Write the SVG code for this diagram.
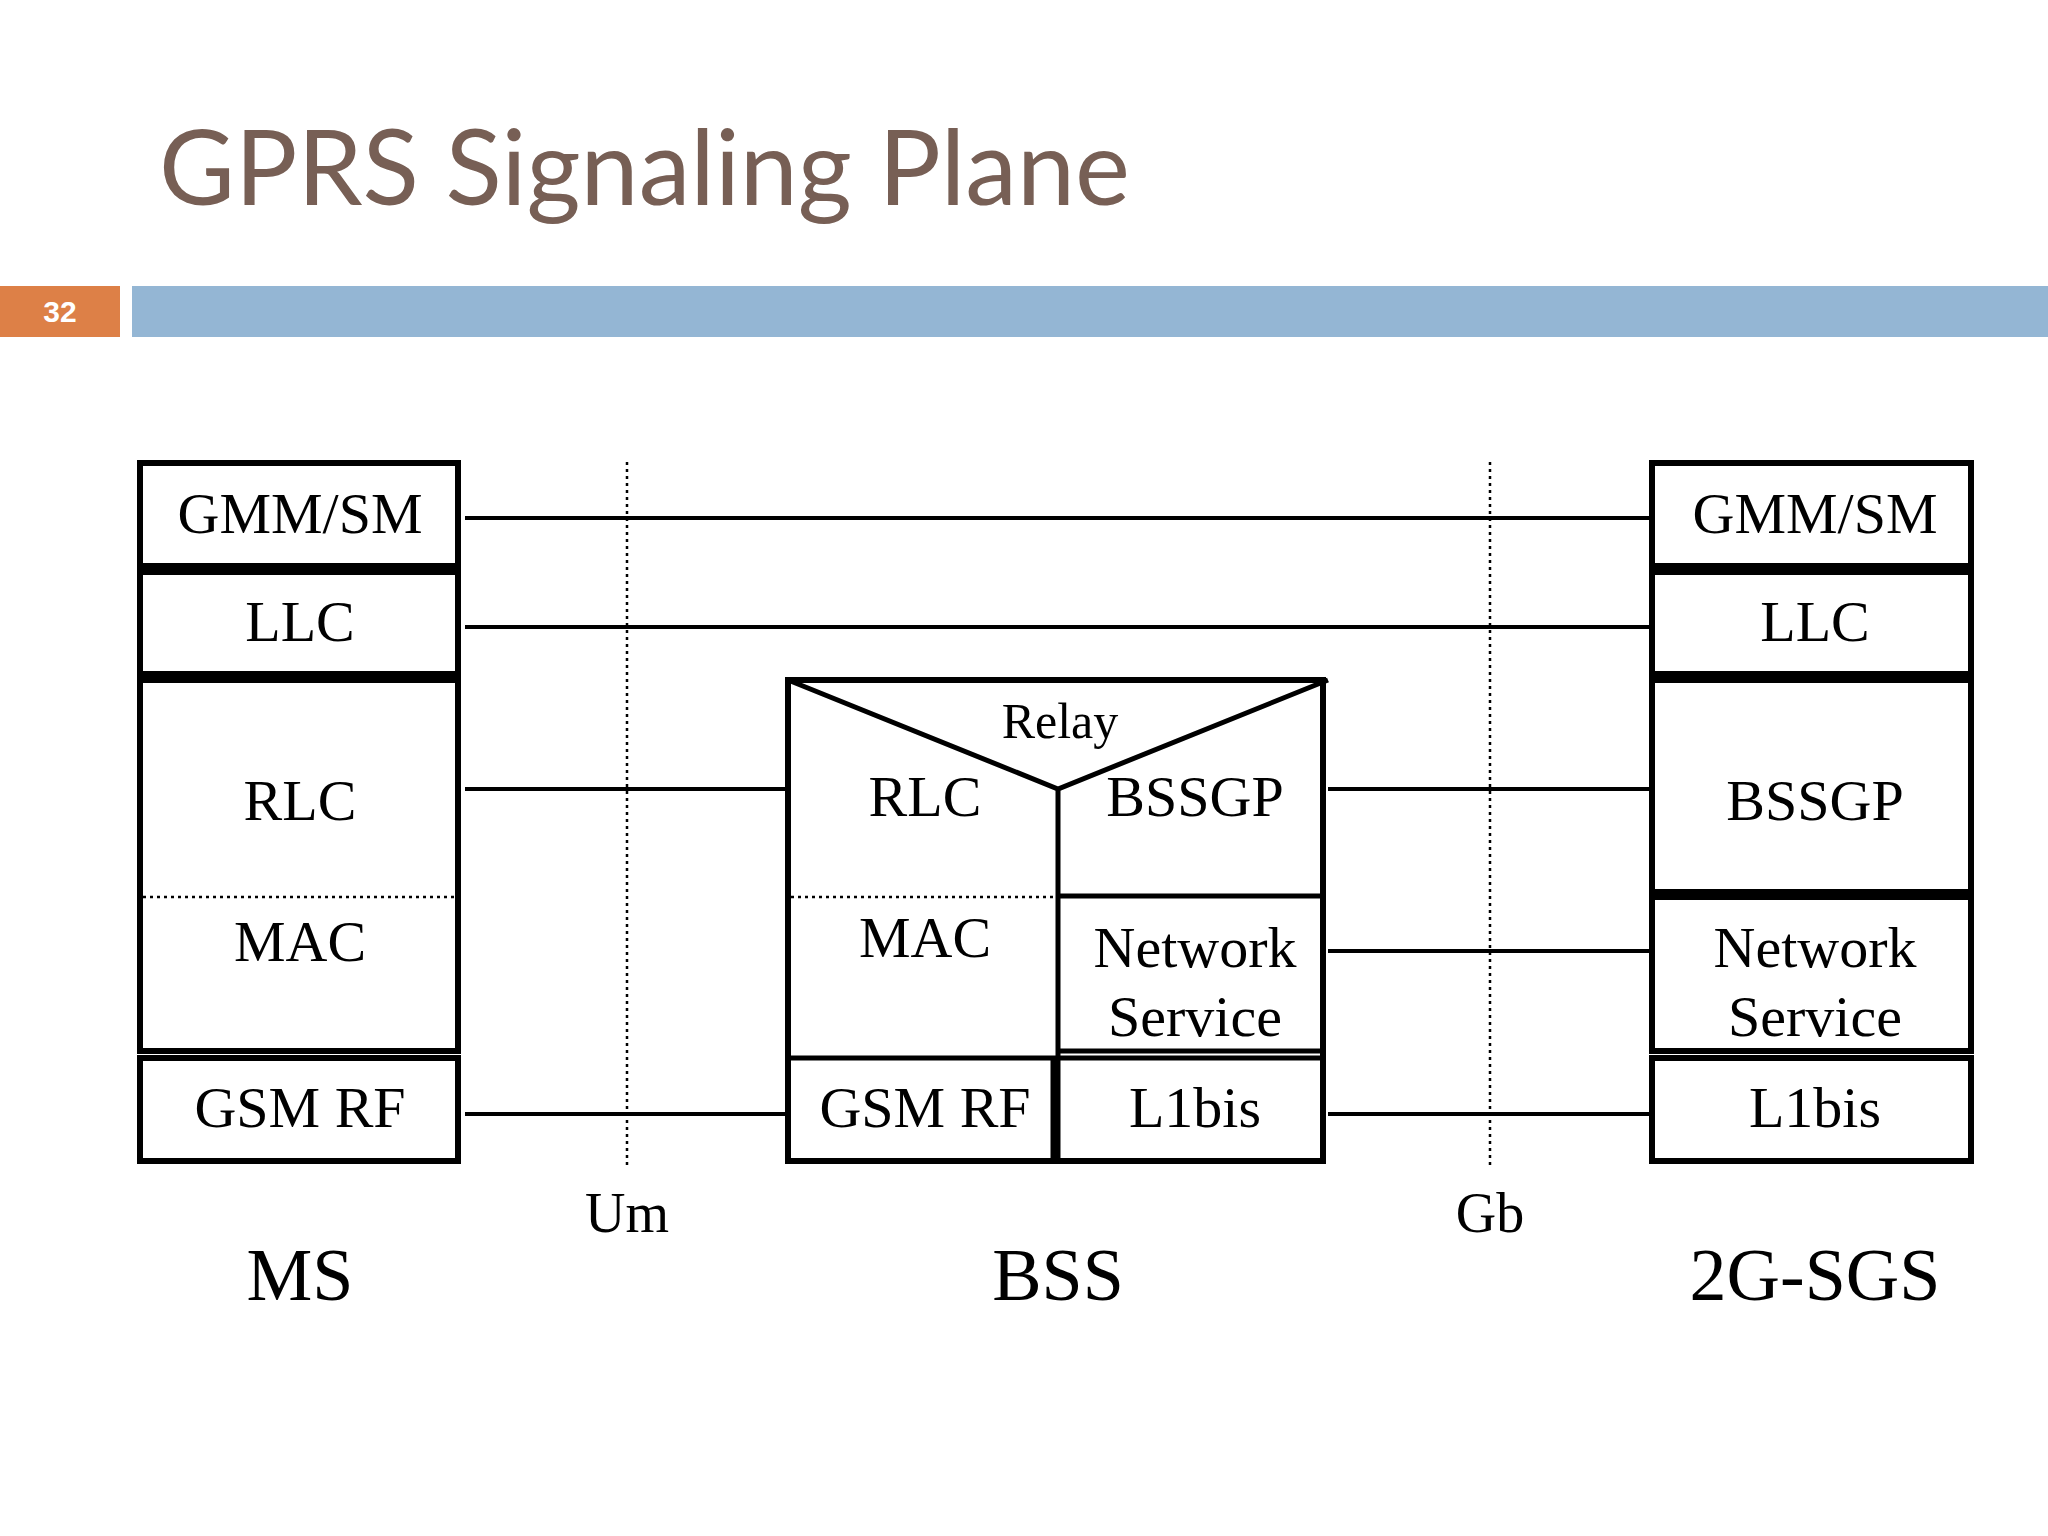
<svg xmlns="http://www.w3.org/2000/svg" width="2048" height="1536" viewBox="0 0 2048 1536">
<style>
.b{fill:#fff;stroke:#000;stroke-width:6}
.t{font-family:"Liberation Serif",serif;font-size:58px;text-anchor:middle;fill:#000}
.l{stroke:#000;stroke-width:4;fill:none}
.d{stroke:#000;stroke-width:2.5;stroke-dasharray:3 4;fill:none}
</style>
<rect width="2048" height="1536" fill="#fff"/>
<text x="159" y="205" font-family="Lato,'Open Sans',sans-serif" font-size="104" fill="#775f55">GPRS Signaling Plane</text>
<rect x="0" y="286" width="120" height="51" fill="#dd8047"/>
<text x="60" y="322" font-family="'Liberation Sans',sans-serif" font-size="30" font-weight="bold" fill="#fff" text-anchor="middle">32</text>
<rect x="132" y="286" width="1916" height="51" fill="#94b6d4"/>
<g id="connectors">
<path class="l" d="M465 518H1652M465 627H1652M465 789H785M1328 789H1652M1328 951H1652M465 1114H785M1328 1114H1652"/>
<path class="d" d="M627 462V1165M1490 462V1165"/>
</g>
<g id="ms">
<rect class="b" x="140" y="463" width="318" height="103"/>
<rect class="b" x="140" y="572" width="318" height="102"/>
<rect class="b" x="140" y="680" width="318" height="371"/>
<rect class="b" x="140" y="1058" width="318" height="103"/>
<path class="d" d="M143 897H465"/>
<text class="t" x="300" y="533">GMM/SM</text>
<text class="t" x="300" y="641">LLC</text>
<text class="t" x="300" y="820">RLC</text>
<text class="t" x="300" y="961">MAC</text>
<text class="t" x="300" y="1127">GSM RF</text>
</g>
<g id="sgsn">
<rect class="b" x="1652" y="463" width="319" height="103"/>
<rect class="b" x="1652" y="572" width="319" height="102"/>
<rect class="b" x="1652" y="680" width="319" height="212"/>
<rect class="b" x="1652" y="897" width="319" height="154"/>
<rect class="b" x="1652" y="1058" width="319" height="103"/>
<text class="t" x="1815" y="533">GMM/SM</text>
<text class="t" x="1815" y="641">LLC</text>
<text class="t" x="1815" y="820">BSSGP</text>
<text class="t" x="1815" y="967">Network</text>
<text class="t" x="1815" y="1036">Service</text>
<text class="t" x="1815" y="1127">L1bis</text>
</g>
<g id="bss">
<rect class="b" x="788" y="680" width="535" height="481"/>
<path class="l" style="stroke-width:5" d="M788 680L1058 789L1328 680M1058 789V1161M1058 896H1323M1058 1051H1323M788 1058H1323M1053 1058V1161"/>
<path class="d" d="M791 897H1056"/>
<text class="t" x="1060" y="738" style="font-size:50px">Relay</text>
<text class="t" x="925" y="816">RLC</text>
<text class="t" x="1195" y="816">BSSGP</text>
<text class="t" x="925" y="957">MAC</text>
<text class="t" x="1195" y="967">Network</text>
<text class="t" x="1195" y="1036">Service</text>
<text class="t" x="925" y="1127">GSM RF</text>
<text class="t" x="1195" y="1127">L1bis</text>
</g>
<g id="labels">
<text class="t" x="627" y="1232" style="font-size:56px">Um</text>
<text class="t" x="1490" y="1232" style="font-size:56px">Gb</text>
<text class="t" x="300" y="1300" style="font-size:74px">MS</text>
<text class="t" x="1058" y="1300" style="font-size:74px">BSS</text>
<text class="t" x="1815" y="1300" style="font-size:74px">2G-SGS</text>
</g>
</svg>
